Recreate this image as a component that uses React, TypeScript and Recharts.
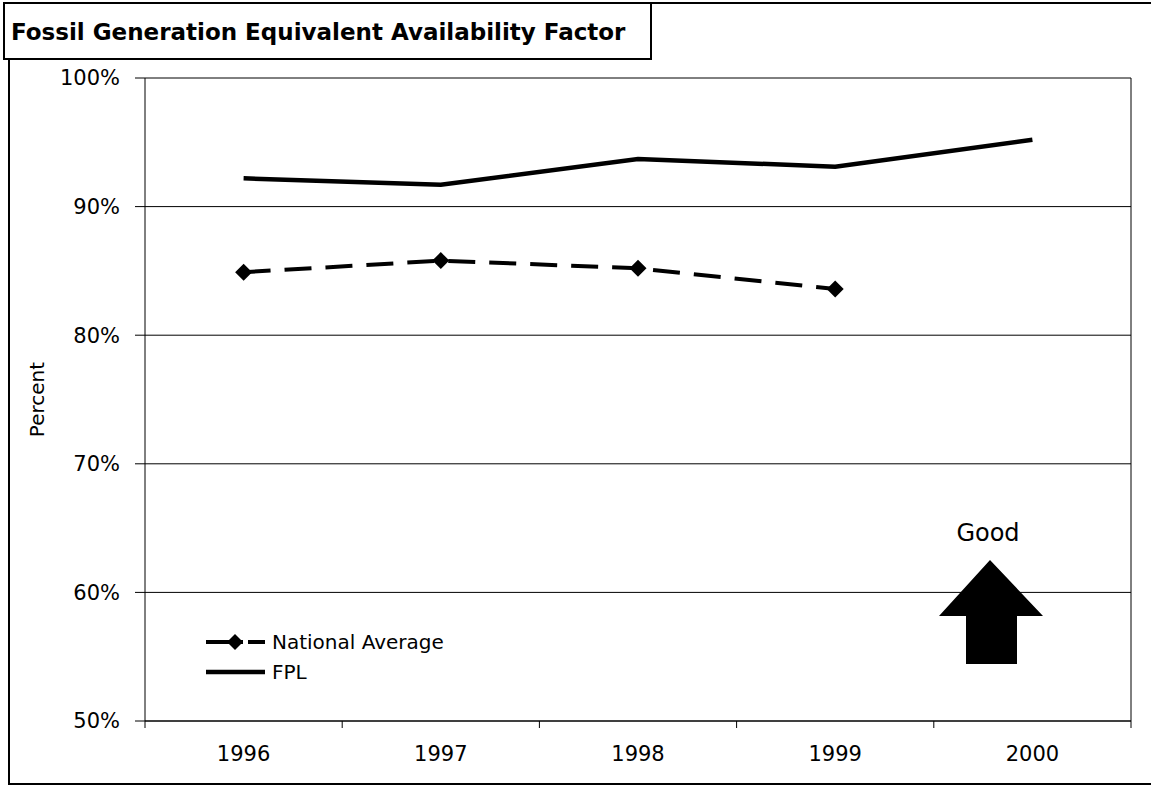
import {
  LineChart,
  Line,
  XAxis,
  YAxis,
  CartesianGrid,
  Legend,
  ReferenceLine
} from 'recharts';

const years = ['1996', '1997', '1998', '1999', '2000'];
const fplValues = [92.2, 91.7, 93.7, 93.1, 95.2];
const nationalValues: (number | null)[] = [84.9, 85.8, 85.2, 83.6, null];
const yTicks = [50, 60, 70, 80, 90, 100];
const legendOrder = ['national', 'fpl'];

const FONT = '"DejaVu Sans", Verdana, sans-serif';

const data = years.map((year, i) => ({
  year,
  fpl: fplValues[i],
  national: nationalValues[i]
}));

const Diamond = (props: any) => {
  const { cx, cy } = props;
  if (cx == null || cy == null) return null;
  const r = 8.5;
  return (
    <path
      d={`M${cx},${cy - r} L${cx + r},${cy} L${cx},${cy + r} L${cx - r},${cy} Z`}
      fill="#000"
    />
  );
};

// small tick below the x axis at a category boundary
const BoundaryTick = (props: any) => {
  const { x1, y1, y2 } = props;
  if (x1 == null) return null;
  const bottom = Math.max(y1, y2);
  return <line x1={x1} x2={x1} y1={bottom} y2={bottom + 7} stroke="#000" strokeWidth={1} />;
};

const LegendContent = ({ payload }: any) => {
  const items = [...(payload || [])].sort(
    (a: any, b: any) => legendOrder.indexOf(a.dataKey) - legendOrder.indexOf(b.dataKey)
  );
  return (
    <svg width={280} height={64} style={{ display: 'block' }}>
      {items.map((item: any, i: number) => {
        const y = 17 + i * 30;
        const dashed = item.dataKey === 'national';
        return (
          <g key={item.dataKey}>
            {dashed ? (
              <>
                <line x1={6} y1={y} x2={43} y2={y} stroke="#000" strokeWidth={4} />
                <line x1={48} y1={y} x2={65} y2={y} stroke="#000" strokeWidth={4} />
                <path d={`M35,${y - 8} L43,${y} L35,${y + 8} L27,${y} Z`} fill="#000" />
              </>
            ) : (
              <line x1={6} y1={y} x2={65} y2={y} stroke="#000" strokeWidth={4.5} />
            )}
            <text x={72} y={y} dy="0.36em" fontSize={20} fontFamily={FONT} fill="#000">
              {item.value}
            </text>
          </g>
        );
      })}
    </svg>
  );
};

export default function App() {
  return (
    <div
      style={{
        position: 'absolute',
        left: 0,
        top: 0,
        width: 1151,
        height: 785,
        background: '#fff',
        overflow: 'hidden',
        fontFamily: FONT
      }}
    >
      {/* outer frame */}
      <div
        style={{
          position: 'absolute',
          left: 8,
          top: 2,
          width: 1200,
          height: 779,
          borderLeft: '2px solid #000',
          borderTop: '2px solid #000',
          borderBottom: '2px solid #000'
        }}
      />

      <div style={{ position: 'absolute', left: 0, top: 0 }}>
        <LineChart
          width={1151}
          height={785}
          data={data}
          margin={{ top: 78, right: 20, bottom: 0, left: 0 }}
        >
          <CartesianGrid vertical={false} stroke="#000" strokeWidth={1} />
          <XAxis
            dataKey="year"
            scale="band"
            height={64}
            axisLine={{ stroke: '#000' }}
            tickLine={false}
            tickSize={0}
            tickMargin={25}
            tick={{ fill: '#000', fontSize: 21, fontFamily: FONT }}
          />
          <YAxis
            domain={[50, 100]}
            ticks={yTicks}
            width={145}
            tickFormatter={(v) => `${v}%`}
            axisLine={{ stroke: '#000' }}
            tickLine={{ stroke: '#000' }}
            tickSize={10}
            tickMargin={15}
            tick={{ fill: '#000', fontSize: 21, fontFamily: FONT }}
            label={{
              value: 'Percent',
              angle: -90,
              position: 'insideLeft',
              offset: 37,
              style: { textAnchor: 'middle', fill: '#000', fontSize: 20, fontFamily: FONT }
            }}
          />
          {years.map((y) => (
            <ReferenceLine key={y} x={y} position="start" shape={<BoundaryTick />} />
          ))}
          <ReferenceLine x={years[years.length - 1]} position="end" shape={<BoundaryTick />} />
          <ReferenceLine x={years[years.length - 1]} position="end" stroke="#000" strokeWidth={1} />
          <Legend
            layout="vertical"
            align="center"
            verticalAlign="middle"
            content={<LegendContent />}
            wrapperStyle={{ left: 200, top: 625, width: 280, height: 64 }}
          />
          <Line
            dataKey="national"
            name="National Average"
            stroke="#000"
            strokeWidth={4}
            strokeDasharray="27 14"
            dot={<Diamond />}
            activeDot={false}
            connectNulls={false}
            isAnimationActive={false}
          />
          <Line
            dataKey="fpl"
            name="FPL"
            stroke="#000"
            strokeWidth={4.5}
            dot={false}
            activeDot={false}
            isAnimationActive={false}
          />
        </LineChart>
      </div>

      {/* Good arrow annotation */}
      <svg
        width={1151}
        height={785}
        style={{ position: 'absolute', left: 0, top: 0, pointerEvents: 'none' }}
      >
        <text
          x={988}
          y={532}
          dy="0.36em"
          textAnchor="middle"
          fontSize={24}
          fontFamily={FONT}
          fill="#000"
        >
          Good
        </text>
        <polygon
          points="990,560 1043,616 1017,616 1017,664 966,664 966,616 939,616"
          fill="#000"
        />
      </svg>

      {/* title box */}
      <div
        style={{
          position: 'absolute',
          left: 3,
          top: 2,
          width: 639,
          height: 52,
          border: '2px solid #000',
          background: '#fff',
          display: 'flex',
          alignItems: 'center',
          paddingLeft: 6,
          paddingTop: 2,
          boxSizing: 'content-box',
          fontWeight: 700,
          fontSize: 23,
          whiteSpace: 'nowrap'
        }}
      >
        Fossil Generation Equivalent Availability Factor
      </div>
    </div>
  );
}
